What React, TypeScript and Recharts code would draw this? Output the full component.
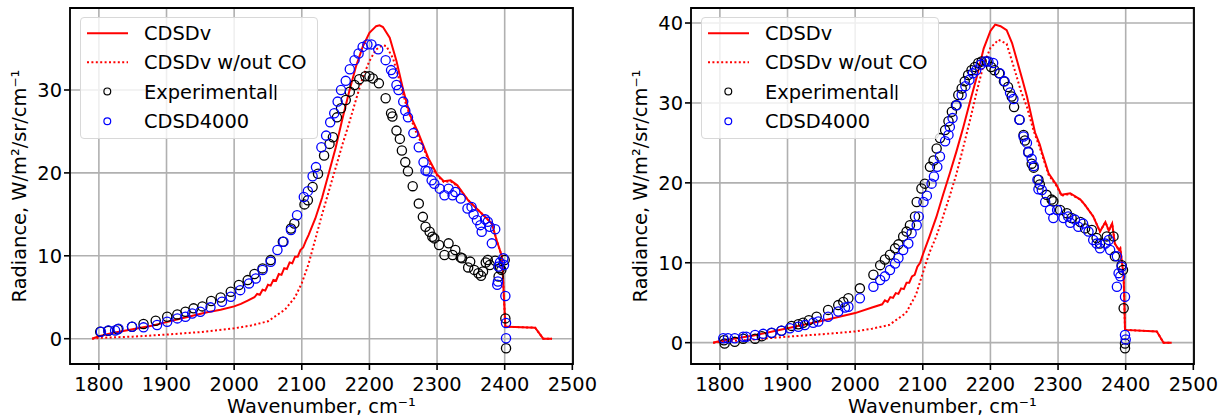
import React from 'react';
import {
  ComposedChart, Line, Scatter, XAxis, YAxis, CartesianGrid, ReferenceArea, Legend,
} from 'recharts';

if (typeof document !== 'undefined') {
  document.body.style.margin = '0';
  document.body.style.overflow = 'hidden';
}

const FONT = '"DejaVu Sans", sans-serif';
const FS = 19.4;

// ---------- tick labels ----------
const X_TICKS = [1800, 1900, 2000, 2100, 2200, 2300, 2400, 2500];
const L_Y_TICKS = [0, 10, 20, 30];
const R_Y_TICKS = [0, 10, 20, 30, 40];
const X_DOMAIN: [number, number] = [1757.3, 2501];
const L_Y_DOMAIN: [number, number] = [-3.05, 39.89];
const R_Y_DOMAIN: [number, number] = [-2.67, 41.88];

// ---------- series names ----------
const SERIES = ['CDSDv', 'CDSDv w/out CO', 'Experimental', 'CDSD4000'];

// ---------- left panel ----------
const L_CDSDV: [number, number][] = [
  [1790, 0], [1800, 0.3], [1820, 0.7], [1840, 1.0], [1860, 1.3], [1880, 1.6], [1900, 2.0],
  [1920, 2.4], [1940, 2.8], [1960, 3.2], [1980, 3.5], [2000, 3.9], [2010, 4.2], [2020, 4.6],
  [2030, 5.0], [2034, 5.4], [2038, 5.3], [2042, 5.9], [2046, 5.8], [2050, 6.5], [2054, 6.4],
  [2058, 7.1], [2062, 7.0], [2066, 7.8], [2070, 7.7], [2074, 8.5], [2078, 8.4], [2082, 9.2],
  [2086, 9.1], [2090, 9.9], [2094, 9.9], [2098, 10.7], [2102, 11.0], [2106, 11.8],
  [2110, 12.5], [2120, 14.5], [2130, 17.0], [2140, 20.0], [2150, 23.0], [2160, 26.5],
  [2170, 29.8], [2180, 32.8], [2190, 35.2], [2200, 36.9], [2210, 37.7], [2215, 37.8],
  [2220, 37.6], [2230, 36.3], [2240, 33.5], [2250, 30.0], [2260, 27.0], [2272, 24.9],
  [2287, 21.8], [2300, 19.8], [2310, 19.0], [2320, 19.1], [2330, 18.5], [2346, 16.7],
  [2366, 15.1], [2381, 13.9], [2388, 11.9], [2396, 9.9], [2401, 1.45], [2445, 1.33],
  [2457, 0], [2470, 0],
];
const L_NOCO: [number, number][] = [
  [1790, 0], [1800, 0.1], [1850, 0.25], [1900, 0.5], [1950, 0.8], [2000, 1.25], [2025, 1.6],
  [2050, 2.1], [2075, 3.5], [2090, 5.0], [2100, 6.7], [2110, 9.0], [2120, 12.0], [2130, 15.0],
  [2140, 17.8], [2150, 20.6], [2160, 23.4], [2170, 26.0], [2180, 28.8], [2190, 31.5],
  [2200, 33.5], [2210, 34.9], [2220, 35.4], [2225, 35.3], [2235, 33.8], [2245, 31.0],
  [2255, 28.0], [2267, 25.3], [2280, 23.0], [2290, 21.0], [2300, 19.7], [2310, 18.9],
  [2320, 19.0], [2330, 18.4], [2346, 16.7], [2366, 15.1], [2381, 13.9], [2388, 11.9],
  [2396, 9.9], [2401, 1.45], [2445, 1.33], [2457, 0], [2470, 0],
];
const L_EXP: [number, number][] = [
  [1802, 0.85], [1814, 0.95], [1828, 1.15], [1849, 1.45], [1866, 1.77], [1884, 2.17],
  [1901, 2.65], [1916, 2.93], [1928, 3.25], [1940, 3.66], [1953, 3.9], [1966, 4.54],
  [1980, 4.98], [1995, 5.66], [2007, 6.47], [2020, 7.07], [2030, 7.8], [2042, 8.48],
  [2054, 9.48], [2072, 11.7], [2084, 13.3], [2089, 13.9], [2104, 16.2], [2109, 16.7],
  [2116, 18.3], [2124, 19.9], [2133, 22.1], [2141, 23.5], [2146, 24.3], [2152, 26.7],
  [2158, 27.8], [2165, 28.8], [2171, 29.8], [2178, 30.6], [2185, 31.3], [2194, 31.65],
  [2200, 31.65], [2205, 31.4], [2214, 30.8], [2224, 29.0], [2232, 27.2], [2234, 26.8],
  [2240, 25.1], [2245, 24.1], [2248, 22.7], [2253, 21.3], [2257, 20.2], [2264, 18.4],
  [2273, 16.3], [2279, 14.7], [2283, 13.5], [2289, 12.9], [2293, 12.3], [2296, 12.1],
  [2303, 11.3], [2311, 10.1], [2317, 11.5], [2323, 10.1], [2327, 10.7], [2335, 9.8],
  [2337, 9.7], [2346, 8.6], [2349, 9.3], [2355, 8.3], [2361, 7.9], [2365, 7.6], [2368, 8.1],
  [2372, 9.2], [2375, 9.5], [2378, 8.9], [2386, 9.4], [2391, 7.5], [2393, 8.5], [2395, 8.3],
  [2400, 9.5], [2401, 2.45], [2402, -1.15],
];
const L_CDSD4000: [number, number][] = [
  [1803, 0.85], [1814, 1.0], [1824, 1.0], [1829, 1.2], [1849, 1.45], [1866, 1.37],
  [1886, 1.65], [1901, 2.05], [1916, 2.45], [1928, 2.65], [1938, 3.05], [1950, 3.25],
  [1965, 3.78], [1982, 4.46], [1995, 5.06], [2009, 5.86], [2022, 6.67], [2032, 7.27],
  [2042, 8.28], [2054, 9.28], [2064, 10.7], [2073, 11.7], [2084, 13.1], [2093, 14.9],
  [2103, 17.1], [2109, 17.8], [2116, 19.6], [2121, 20.7], [2129, 23.1], [2136, 24.5],
  [2142, 26.1], [2148, 27.2], [2153, 28.6], [2158, 30.0], [2165, 31.1], [2171, 32.5],
  [2178, 33.6], [2184, 34.4], [2190, 35.2], [2197, 35.5], [2203, 35.5], [2213, 34.9],
  [2224, 33.6], [2232, 32.4], [2235, 32.0], [2240, 30.6], [2243, 30.0], [2250, 28.6],
  [2253, 27.5], [2257, 26.7], [2265, 24.8], [2273, 23.1], [2280, 21.3], [2283, 20.3],
  [2286, 20.2], [2292, 19.1], [2296, 18.7], [2304, 18.1], [2311, 17.3], [2317, 18.1],
  [2323, 17.3], [2327, 17.7], [2335, 16.9], [2345, 15.7], [2351, 15.9], [2354, 15.0],
  [2359, 14.3], [2364, 13.7], [2366, 12.9], [2371, 14.4], [2375, 14.1], [2378, 13.5],
  [2381, 11.5], [2386, 13.2], [2389, 6.5], [2390, 6.9], [2391, 8.7], [2393, 9.2],
  [2398, 9.7], [2399, 8.9], [2401, 5.15], [2402, 1.9], [2402, 0.05],
];

// ---------- right panel ----------
const R_CDSDV: [number, number][] = [
  [1790, 0], [1800, 0.2], [1850, 0.9], [1900, 1.8], [1950, 2.7], [2000, 3.7], [2025, 4.4],
  [2040, 4.8], [2044, 5.3], [2048, 5.1], [2052, 5.7], [2056, 5.6], [2060, 6.2], [2064, 6.1],
  [2068, 6.8], [2072, 6.7], [2076, 7.5], [2080, 7.5], [2084, 8.3], [2088, 8.5], [2092, 9.5],
  [2096, 10.0], [2100, 11.0], [2110, 13.3], [2120, 15.7], [2130, 18.5], [2140, 21.2],
  [2150, 24.0], [2160, 27.0], [2170, 30.2], [2180, 33.3], [2190, 36.8], [2200, 39.0],
  [2207, 39.8], [2215, 39.6], [2224, 39.1], [2232, 37.5], [2239, 35.4], [2247, 33.0],
  [2254, 30.8], [2266, 26.3], [2273, 24.8], [2276, 23.9], [2286, 21.2], [2298, 19.7],
  [2305, 18.5], [2318, 18.7], [2333, 17.9], [2340, 17.2], [2352, 15.8], [2362, 13.9],
  [2370, 15.1], [2375, 14.0], [2380, 14.9], [2384, 12.4], [2390, 11.6], [2392, 11.8],
  [2397, 8.3], [2399, 1.6], [2446, 1.4], [2456, 0], [2468, 0],
];
const R_NOCO: [number, number][] = [
  [1790, 0], [1800, 0.1], [1850, 0.4], [1900, 0.75], [1950, 1.05], [2000, 1.4], [2025, 1.75],
  [2050, 2.2], [2075, 3.7], [2090, 6.0], [2100, 8.7], [2110, 11.3], [2120, 13.3],
  [2130, 15.8], [2140, 18.4], [2150, 21.2], [2160, 24.5], [2170, 27.9], [2180, 31.5],
  [2190, 34.8], [2200, 36.9], [2212, 37.9], [2224, 37.4], [2236, 34.1], [2245, 31.5],
  [2254, 29.5], [2264, 26.5], [2273, 24.4], [2286, 21.0], [2298, 19.6], [2305, 18.4],
  [2318, 18.6], [2333, 17.9], [2340, 17.2], [2352, 15.8], [2362, 13.9], [2370, 15.1],
  [2375, 14.0], [2380, 14.9], [2384, 12.4], [2390, 11.6], [2392, 11.8], [2397, 8.3],
  [2399, 1.6], [2446, 1.4], [2456, 0], [2468, 0],
];
const R_EXP: [number, number][] = [
  [1806, 0.3], [1807, -0.1], [1822, 0.1], [1834.5, 0.5], [1852, 0.5], [1862, 0.8],
  [1876.5, 1.2], [1891, 1.5], [1906, 2.1], [1916, 2.3], [1923, 2.5], [1931.5, 2.8],
  [1943, 3.25], [1960, 4.1], [1975, 4.7], [1982.5, 5.1], [1990, 5.55], [2007, 6.8],
  [2027, 8.5], [2037, 9.7], [2044, 10.4], [2051.5, 11.0], [2059, 11.8], [2064, 12.3],
  [2071, 13.3], [2076, 13.9], [2081, 14.7], [2088.5, 15.8], [2091, 17.6], [2098, 19.3],
  [2103, 19.9], [2110.6, 22.0], [2116, 22.8], [2120.5, 24.3], [2125.4, 25.6], [2133, 26.6],
  [2138, 27.7], [2143, 28.9], [2149, 29.7], [2152.5, 31.0], [2157.5, 31.8], [2162, 32.7],
  [2167, 33.5], [2172, 34.1], [2177, 34.5], [2182, 35.0], [2187, 35.2], [2194.5, 35.2],
  [2201, 34.5], [2206, 34.1], [2213, 33.7], [2220, 32.7], [2226, 32.0], [2231.5, 30.8],
  [2235, 29.5], [2243, 27.9], [2249, 26.0], [2251, 25.3], [2256, 23.9], [2261, 22.4],
  [2264, 21.9], [2271, 20.4], [2273, 19.8], [2283, 18.5], [2290.5, 17.9], [2293, 17.7],
  [2303, 16.6], [2313, 16.2], [2320, 15.6], [2333, 15.1], [2340, 14.3], [2350, 14.1],
  [2357, 13.1], [2362, 12.4], [2372, 13.3], [2382, 13.3], [2384, 10.8], [2394, 9.7],
  [2396, 9.1], [2397, 4.3], [2399, -0.1], [2399, -0.7],
];
const R_CDSD4000: [number, number][] = [
  [1805, 0.55], [1812, 0.55], [1822, 0.55], [1834.5, 0.75], [1839, 0.75], [1852, 0.96],
  [1864, 1.1], [1876.5, 1.25], [1891, 1.5], [1903.6, 1.8], [1916, 2.0], [1925.7, 2.2],
  [1938, 2.5], [1945.5, 2.65], [1960, 3.25], [1975, 3.9], [1985, 4.4], [1990, 4.5],
  [2007, 5.55], [2027, 7.0], [2037, 7.85], [2044, 8.3], [2051.5, 9.1], [2059, 9.9],
  [2064, 10.6], [2071, 11.6], [2078.6, 12.4], [2083.5, 13.7], [2091, 14.7], [2094, 15.8],
  [2101, 17.6], [2106, 18.4], [2113, 19.9], [2116.5, 20.8], [2121.5, 22.0], [2125.4, 23.3],
  [2133, 25.2], [2138, 26.0], [2140, 27.0], [2144, 28.1], [2150, 29.7], [2157.5, 31.0],
  [2163, 32.1], [2169, 32.9], [2174, 33.7], [2179, 34.1], [2185.7, 34.8], [2192, 35.2],
  [2197, 35.2], [2204, 35.0], [2214, 33.7], [2221, 32.7], [2229, 31.3], [2234, 30.5],
  [2243, 27.9], [2249, 25.8], [2254, 25.0], [2256, 23.8], [2261, 23.0], [2264, 22.1],
  [2269.5, 20.4], [2271, 19.2], [2276, 19.1], [2281, 17.6], [2288, 16.6], [2293, 15.6],
  [2298.6, 16.6], [2308, 15.6], [2315, 15.8], [2318, 15.0], [2325, 15.4], [2330, 14.5],
  [2337, 14.9], [2345, 13.9], [2352, 12.85], [2357, 12.4], [2362, 11.8], [2370, 12.4],
  [2375, 12.85], [2377, 11.6], [2387, 10.8], [2389.5, 8.7], [2387, 7.0], [2392, 8.3],
  [2394, 9.5], [2399, 5.75], [2399, 0.96], [2400, 0.4],
];

const toPts = (arr: [number, number][]) => arr.map(([x, y]) => ({ x, y }));

const ring = (color: string) => (props: any) => (
  <circle cx={props.cx} cy={props.cy} r={4.6} fill="none" stroke={color} strokeWidth={1.3} />
);

const YTitle = (props: any) => {
  const vb = props.viewBox || { x: 0, y: 0, width: 0, height: 0 };
  const cx = vb.x + 5.5;
  const cy = vb.y + vb.height / 2;
  return (
    <text x={cx} y={cy} transform={`rotate(-90 ${cx} ${cy})`} textAnchor="middle"
      fontSize={FS} fontFamily={FONT} fill="#000">
      Radiance, W/m²/sr/cm⁻¹
    </text>
  );
};

const LegendBox = () => {
  const rows = [16.3, 45.3, 74.4, 104.2];
  return (
    <div style={{
      width: 238, height: 122, boxSizing: 'border-box', border: '1px solid #d8d8d8',
      borderRadius: 4, background: 'rgba(255,255,255,0.8)', position: 'relative',
    }}>
      <svg width={238} height={122} style={{ position: 'absolute', left: -1, top: -1 }}>
        <line x1={7} x2={48} y1={rows[0]} y2={rows[0]} stroke="#ff0000" strokeWidth={2} />
        <line x1={7} x2={48} y1={rows[1]} y2={rows[1]} stroke="#ff0000" strokeWidth={2} strokeDasharray="2 2.4" />
        <circle cx={27.3} cy={rows[2]} r={3.4} fill="none" stroke="#000" strokeWidth={1.2} />
        <circle cx={27.3} cy={rows[3]} r={3.4} fill="none" stroke="#0000ff" strokeWidth={1.2} />
        {SERIES.map((s, i) => (
          <text key={s} x={64} y={rows[i] + 7.1} fontSize={FS} fontFamily={FONT} fill="#000">{s}</text>
        ))}
        <line x1={195.5} x2={195.5} y1={68} y2={83} stroke="#000" strokeWidth={1.6} />
      </svg>
    </div>
  );
};

type PanelProps = {
  left: number;
  width: number;
  marginLeft: number;
  marginRight: number;
  legendLeft: number;
  yDomain: [number, number];
  yTicks: number[];
  cdsdv: [number, number][];
  noco: [number, number][];
  exp: [number, number][];
  cdsd4000: [number, number][];
};

const Panel = (p: PanelProps) => (
  <div style={{ position: 'absolute', left: p.left, top: 0 }}>
    <ComposedChart width={p.width} height={420}
      margin={{ top: 8, right: p.marginRight, bottom: 0, left: p.marginLeft }}>
      <CartesianGrid stroke="#b0b0b0" strokeWidth={1.6} />
      <XAxis dataKey="x" type="number" domain={X_DOMAIN} ticks={X_TICKS} allowDataOverflow
        interval={0} height={56} axisLine={false} tickSize={6} tickMargin={7}
        tickLine={{ stroke: '#000', strokeWidth: 1.6 }}
        tick={{ fill: '#000', fontSize: FS, fontFamily: FONT }}
        label={{ value: 'Wavenumber, cm⁻¹', position: 'insideBottom', offset: 7, fill: '#000', fontSize: FS, fontFamily: FONT }}
      />
      <YAxis dataKey="y" type="number" domain={p.yDomain} ticks={p.yTicks} allowDataOverflow
        interval={0} width={50} axisLine={false} tickSize={6} tickMargin={2}
        tickLine={{ stroke: '#000', strokeWidth: 1.6 }}
        tick={{ fill: '#000', fontSize: FS, fontFamily: FONT }}
        label={<YTitle />}
      />
      <Line data={toPts(p.cdsdv)} dataKey="y" type="linear" stroke="#ff0000" strokeWidth={2}
        dot={false} activeDot={false} isAnimationActive={false} name={SERIES[0]} />
      <Line data={toPts(p.noco)} dataKey="y" type="linear" stroke="#ff0000" strokeWidth={2}
        strokeDasharray="2 2.4" dot={false} activeDot={false} isAnimationActive={false} name={SERIES[1]} />
      <Scatter data={toPts(p.exp)} shape={ring('#000000')} isAnimationActive={false} name={SERIES[2]} />
      <Scatter data={toPts(p.cdsd4000)} shape={ring('#0000ff')} isAnimationActive={false} name={SERIES[3]} />
      <ReferenceArea x1={X_DOMAIN[0]} x2={X_DOMAIN[1]} y1={p.yDomain[0]} y2={p.yDomain[1]}
        fill="none" fillOpacity={0} stroke="#000" strokeWidth={1.8} ifOverflow="visible" />
      <Legend layout="vertical" align="center" verticalAlign="middle"
        wrapperStyle={{ left: p.legendLeft, top: 17, width: 238, height: 122 }}
        content={() => <LegendBox />} />
    </ComposedChart>
  </div>
);

export default function App() {
  return (
    <div style={{ position: 'relative', width: 1229, height: 420, background: '#fff', overflow: 'hidden' }}>
      <Panel left={0} width={610} marginLeft={20} marginRight={37} legendLeft={80}
        yDomain={L_Y_DOMAIN} yTicks={L_Y_TICKS}
        cdsdv={L_CDSDV} noco={L_NOCO} exp={L_EXP} cdsd4000={L_CDSD4000} />
      <Panel left={615} width={614} marginLeft={26} marginRight={35} legendLeft={85.7}
        yDomain={R_Y_DOMAIN} yTicks={R_Y_TICKS}
        cdsdv={R_CDSDV} noco={R_NOCO} exp={R_EXP} cdsd4000={R_CDSD4000} />
    </div>
  );
}
